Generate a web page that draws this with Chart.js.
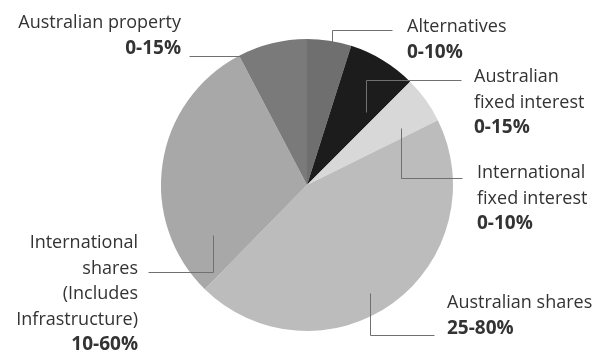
<!DOCTYPE html>
<html>
<head>
<meta charset="utf-8">
<script src="https://cdn.jsdelivr.net/npm/chart.js@4.4.1/dist/chart.umd.min.js"></script>
<style>
  html, body { margin: 0; padding: 0; background: #fff; }
  #wrap { width: 592px; height: 354px; }
</style>
</head>
<body>
<div id="wrap"><canvas id="pie" width="592" height="354"></canvas></div>
<script>
// slice names, clockwise from 12 o'clock
const categories = [
    'Alternatives',
    'Australian fixed interest',
    'International fixed interest',
    'Australian shares',
    'International shares',
    'Australian property'
];
// share of the pie (%)
const shares = [4.9, 7.6, 5.2, 44.7, 30.0, 7.7];
// allowed ranges shown under each label
const ranges = ['0-10%', '0-15%', '0-10%', '25-80%', '10-60%', '0-15%'];
const sliceColors = ['#6f6f6f', '#1c1c1c', '#d8d8d8', '#bcbcbc', '#a8a8a8', '#7a7a7a'];

// label text lines (without the range) and where they sit
const labelLines = [
    ['Alternatives'],
    ['Australian', 'fixed interest'],
    ['International', 'fixed interest'],
    ['Australian shares'],
    ['International', 'shares', '(Includes', 'Infrastructure)'],
    ['Australian property']
];

// =======================
// LABEL LAYOUT (text anchor + leader line)
// =======================
const labelLayout = [
    { x: 407, y: 32, align: 'left',  line: [[332, 63], [332, 30], [392, 30]] },
    { x: 474, y: 82, align: 'left',  line: [[366, 112], [366, 80], [461, 80]] },
    { x: 477, y: 178, align: 'left', line: [[401, 128], [401, 178], [462, 178]] },
    { x: 447, y: 308, align: 'left', line: [[370, 293], [370, 335], [434, 335]] },
    { x: 138, y: 248, align: 'right', line: [[213, 235], [213, 272], [148, 272]] },
    { x: 181, y: 28, align: 'right', line: [[189, 56], [240, 56]] }
];

const LINE_H = 25.5;

const labelsPlugin = {
    id: 'pieLabels',
    afterDraw(chart) {
        const ctx = chart.ctx;
        ctx.save();
        labelLayout.forEach((lay, i) => {
            // leader line
            ctx.strokeStyle = '#707070';
            ctx.lineWidth = 1;
            ctx.beginPath();
            lay.line.forEach((p, k) => {
                if (k === 0) ctx.moveTo(p[0] + 0.5, p[1] + 0.5);
                else ctx.lineTo(p[0] + 0.5, p[1] + 0.5);
            });
            ctx.stroke();

            // text
            ctx.textAlign = lay.align;
            ctx.textBaseline = 'alphabetic';
            ctx.fillStyle = '#333333';
            ctx.font = '18px "Open Sans"';
            const lines = labelLines[i];
            lines.forEach((t, k) => ctx.fillText(t, lay.x, lay.y + k * LINE_H));
            ctx.font = 'bold 19px "Open Sans"';
            ctx.fillText(ranges[i], lay.x, lay.y + lines.length * LINE_H);
        });
        ctx.restore();
    }
};

new Chart(document.getElementById('pie'), {
    type: 'pie',
    data: {
        labels: categories,
        datasets: [{
            data: shares,
            backgroundColor: sliceColors,
            borderWidth: 0
        }]
    },
    options: {
        responsive: false,
        animation: false,
        layout: { padding: { top: 39, bottom: 23, left: 161, right: 139 } },
        plugins: {
            legend: { display: false },
            tooltip: { enabled: false }
        }
    },
    plugins: [labelsPlugin]
});
</script>
</body>
</html>
